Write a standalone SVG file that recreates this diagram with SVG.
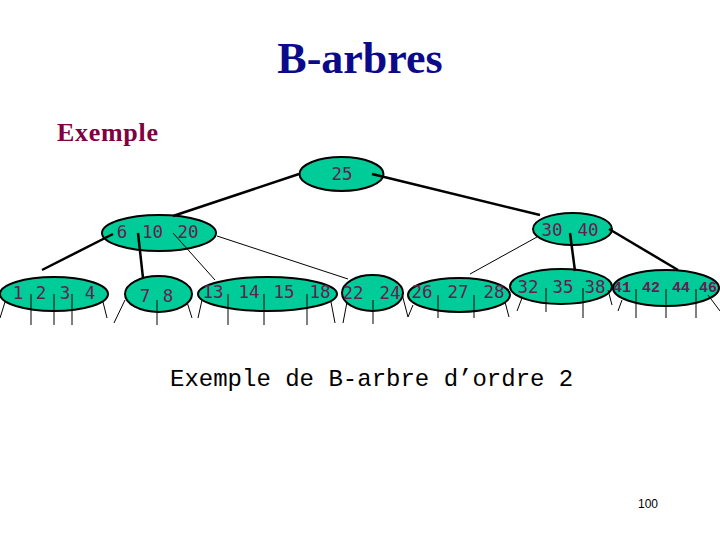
<svg xmlns="http://www.w3.org/2000/svg" width="720" height="540" viewBox="0 0 720 540">
<style>
.n{fill:#00cc99;stroke:#000;stroke-width:2}
.k{font-family:"DejaVu Sans Mono","Liberation Mono",monospace;font-size:17.5px;fill:#641e50;text-anchor:middle}
.k2{font-family:"Liberation Mono","Courier New",monospace;font-size:15px;font-weight:bold;fill:#641e50;text-anchor:middle}
.thick{stroke:#000;stroke-width:2.5;fill:none}
.thin{stroke:#000;stroke-width:1;fill:none}
</style>
<rect width="720" height="540" fill="#fff"/>
<text x="360" y="73" font-family="Liberation Serif,serif" font-size="44" font-weight="bold" fill="#0a0a8a" text-anchor="middle">B-arbres</text>
<text x="57" y="141" font-family="Liberation Serif,serif" font-size="26" font-weight="bold" fill="#800040" textLength="101" lengthAdjust="spacing">Exemple</text>

<g id="root"><ellipse class="n" cx="341.5" cy="174" rx="42" ry="17"/><text class="k" x="342" y="180">25</text></g>
<g id="n6_10_20"><ellipse class="n" cx="159" cy="233" rx="57" ry="18"/>
<text class="k" x="122" y="238">6</text><text class="k" x="152.5" y="238">10</text><text class="k" x="188" y="238">20</text></g>
<g id="n30_40"><ellipse class="n" cx="572.5" cy="229" rx="39.5" ry="16"/>
<text class="k" x="552" y="236">30</text><text class="k" x="588" y="236">40</text></g>

<g id="l1234"><ellipse class="n" cx="54" cy="294" rx="54" ry="17"/>
<text class="k" x="18" y="299">1</text><text class="k" x="41" y="299">2</text><text class="k" x="65" y="299">3</text><text class="k" x="90" y="299">4</text></g>
<g id="l78"><ellipse class="n" cx="158.5" cy="294" rx="33.5" ry="18"/>
<text class="k" x="145" y="302">7</text><text class="k" x="168" y="302">8</text></g>
<g id="l13"><ellipse class="n" cx="267.5" cy="294" rx="69.5" ry="17"/>
<text class="k" x="213" y="298">13</text><text class="k" x="249" y="298">14</text><text class="k" x="284" y="298">15</text><text class="k" x="320" y="298">18</text></g>
<g id="l22"><ellipse class="n" cx="372.5" cy="293" rx="30.5" ry="18"/>
<text class="k" x="353" y="299">22</text><text class="k" x="390" y="299">24</text></g>
<g id="l26"><ellipse class="n" cx="459" cy="295" rx="51" ry="17"/>
<text class="k" x="422" y="298">26</text><text class="k" x="458" y="298">27</text><text class="k" x="494" y="298">28</text></g>
<g id="l32"><ellipse class="n" cx="561" cy="286.5" rx="51" ry="17.5"/>
<text class="k" x="528" y="293">32</text><text class="k" x="563" y="293">35</text><text class="k" x="595" y="293">38</text></g>
<g id="l41"><ellipse class="n" cx="666" cy="288" rx="53" ry="18"/>
<text class="k2" x="622" y="292">41</text><text class="k2" x="651" y="292">42</text><text class="k2" x="681" y="292">44</text><text class="k2" x="708" y="292">46</text></g>

<g id="connectors">
<line class="thick" x1="299" y1="174" x2="173" y2="216"/>
<line class="thick" x1="372" y1="174" x2="540" y2="215"/>
<line class="thick" x1="113" y1="234" x2="42" y2="270"/>
<line class="thick" x1="138" y1="233" x2="143" y2="278"/>
<line class="thin" x1="173" y1="233" x2="215" y2="280"/>
<line class="thin" x1="217" y1="236" x2="348" y2="279"/>
<line class="thin" x1="537" y1="237" x2="470" y2="274"/>
<line class="thick" x1="570" y1="233" x2="575" y2="271"/>
<line class="thick" x1="609" y1="229" x2="678" y2="270"/>
<g id="stubs" class="thin">
<line x1="5" y1="302" x2="0" y2="318"/>
<line x1="31" y1="294" x2="31" y2="325"/>
<line x1="54" y1="294" x2="54" y2="325"/>
<line x1="72" y1="294" x2="72" y2="325"/>
<line x1="103" y1="302" x2="107" y2="318"/>
<line x1="125" y1="300" x2="114" y2="323"/>
<line x1="157" y1="300" x2="157" y2="325"/>
<line x1="187" y1="302" x2="192" y2="318"/>
<line x1="202" y1="300" x2="198" y2="318"/>
<line x1="228" y1="294" x2="228" y2="325"/>
<line x1="264" y1="294" x2="264" y2="325"/>
<line x1="307" y1="294" x2="307" y2="325"/>
<line x1="331" y1="302" x2="335" y2="323"/>
<line x1="347" y1="302" x2="343" y2="323"/>
<line x1="373" y1="300" x2="373" y2="324"/>
<line x1="402" y1="294" x2="408" y2="317"/>
<line x1="413" y1="305" x2="408" y2="317"/>
<line x1="438" y1="295" x2="438" y2="318"/>
<line x1="474" y1="295" x2="474" y2="318"/>
<line x1="505" y1="302" x2="509" y2="317"/>
<line x1="522" y1="298" x2="517" y2="311"/>
<line x1="546" y1="288" x2="546" y2="312"/>
<line x1="583" y1="288" x2="583" y2="318"/>
<line x1="608" y1="290" x2="612" y2="305"/>
<line x1="622" y1="300" x2="618" y2="311"/>
<line x1="636" y1="289" x2="636" y2="318"/>
<line x1="666" y1="289" x2="666" y2="318"/>
<line x1="696" y1="289" x2="696" y2="318"/>
<line x1="708" y1="295" x2="720" y2="311"/>
</g>
</g>

<text x="170" y="386" font-family="Liberation Mono,monospace" font-size="24" fill="#000">Exemple de B-arbre d’ordre 2</text>
<text x="648" y="508" font-family="Liberation Sans,sans-serif" font-size="12" fill="#000" text-anchor="middle">100</text>
</svg>
